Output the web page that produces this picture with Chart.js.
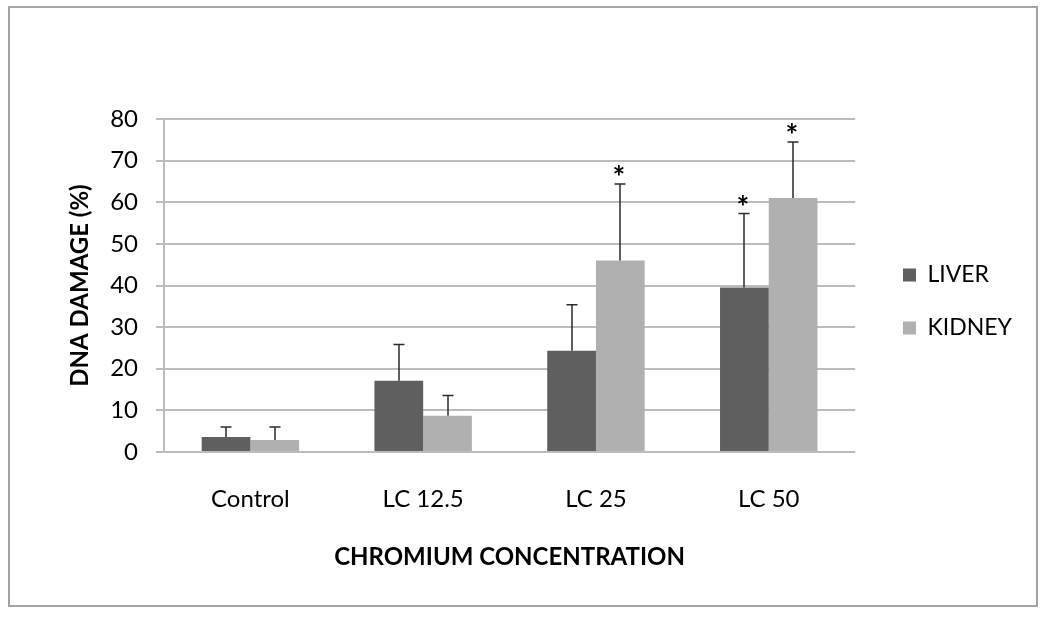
<!DOCTYPE html>
<html>
<head>
<meta charset="utf-8">
<script src="https://cdn.jsdelivr.net/npm/chart.js@4.4.1/dist/chart.umd.min.js"></script>
<style>
  body { margin: 0; background: #fff; }
  #wrap { width: 1050px; height: 619px; }
</style>
</head>
<body>
<div id="wrap"><canvas id="chart" width="1050" height="619"></canvas></div>
<script>
const categories = ["Control", "LC 12.5", "LC 25", "LC 50"];
const liverValues = [3.6, 17.1, 24.3, 39.5];
const kidneyValues = [2.9, 8.7, 46.0, 61.0];
// upper error (SD) for each bar
const liverErrors = [2.4, 8.7, 11.1, 17.8];
const kidneyErrors = [3.1, 4.9, 18.4, 13.5];
// bars marked with a star
const liverSignificant = [false, false, false, true];
const kidneySignificant = [false, false, true, true];
const yTicks = [0, 10, 20, 30, 40, 50, 60, 70, 80];

Chart.defaults.font.family = "Lato, 'Open Sans', sans-serif";
Chart.defaults.color = "#000";

// white background and thin frame round the figure
const framePlugin = {
  id: "frame",
  beforeDraw(chart) {
    const ctx = chart.ctx;
    ctx.save();
    ctx.fillStyle = "#fff";
    ctx.fillRect(0, 0, chart.width, chart.height);
    ctx.strokeStyle = "#a3a3a3";
    ctx.lineWidth = 2;
    ctx.strokeRect(9, 7, 1028, 599);
    ctx.restore();
  }
};

// nudge the legend to where it sits in the figure
const legendPlacer = {
  id: "legendPlacer",
  afterLayout(chart) {
    const lg = chart.legend;
    const dx = 873 - lg.left;
    const dy = -46;
    lg.left += dx;
    lg.right += dx;
    lg.top += dy;
    lg.bottom += dy;
  }
};

// upward error bars with caps, plus stars
const errorBars = {
  id: "errorBars",
  afterDatasetsDraw(chart) {
    const ctx = chart.ctx;
    const yScale = chart.scales.y;
    const errs = [liverErrors, kidneyErrors];
    const stars = [liverSignificant, kidneySignificant];
    ctx.save();
    ctx.strokeStyle = "#2b2b2b";
    ctx.lineWidth = 1.5;
    ctx.fillStyle = "#000";
    ctx.font = "bold 30px Lato, sans-serif";
    ctx.textAlign = "center";
    ctx.textBaseline = "alphabetic";
    const m = ctx.measureText("*");
    const starShift = (m.actualBoundingBoxDescent - m.actualBoundingBoxAscent) / 2;
    chart.data.datasets.forEach((ds, di) => {
      const meta = chart.getDatasetMeta(di);
      meta.data.forEach((bar, i) => {
        const x = Math.round(bar.x);
        const top = yScale.getPixelForValue(ds.data[i] + errs[di][i]);
        ctx.beginPath();
        ctx.moveTo(x, bar.y);
        ctx.lineTo(x, top);
        ctx.moveTo(x - 5.5, top);
        ctx.lineTo(x + 5.5, top);
        ctx.stroke();
        if (stars[di][i]) {
          ctx.fillText("*", x - 1, top - 13 - starShift);
        }
      });
    });
    ctx.restore();
  }
};

new Chart(document.getElementById("chart"), {
  type: "bar",
  data: {
    labels: categories,
    datasets: [
      {
        label: "LIVER",
        data: liverValues,
        backgroundColor: "#5f5f5f",
        barPercentage: 1,
        categoryPercentage: 0.564
      },
      {
        label: "KIDNEY",
        data: kidneyValues,
        backgroundColor: "#b0b0b0",
        barPercentage: 1,
        categoryPercentage: 0.564
      }
    ]
  },
  options: {
    responsive: false,
    animation: false,
    devicePixelRatio: 1,
    layout: { padding: { left: 62, top: 119, right: 46, bottom: 43 } },
    plugins: {
      tooltip: { enabled: false },
      legend: {
        position: "right",
        labels: {
          boxWidth: 13,
          boxHeight: 13,
          padding: 30,
          font: { size: 23 },
          color: "#000"
        }
      }
    },
    scales: {
      x: {
        grid: { display: false, drawTicks: false },
        border: { display: false },
        ticks: { font: { size: 24 }, padding: 33, color: "#000" },
        title: {
          display: true,
          text: "CHROMIUM CONCENTRATION",
          font: { size: 24, weight: "bold" },
          color: "#000",
          padding: { top: 4, bottom: 4 }
        },
        afterFit: (s) => { s.height = 124; }
      },
      y: {
        min: 0,
        max: 80,
        afterBuildTicks: (s) => { s.ticks = yTicks.map((v) => ({ value: v })); },
        ticks: { font: { size: 24 }, padding: 18, color: "#000" },
        grid: { color: "#bcbcbc", lineWidth: 2, tickLength: 8 },
        border: { color: "#bcbcbc", width: 2 },
        title: {
          display: true,
          text: "DNA DAMAGE (%)",
          font: { size: 24, weight: "bold" },
          color: "#000",
          padding: { top: 4, bottom: 4 }
        },
        afterFit: (s) => { s.width = 102; }
      }
    }
  },
  plugins: [framePlugin, legendPlacer, errorBars]
});
</script>
</body>
</html>
